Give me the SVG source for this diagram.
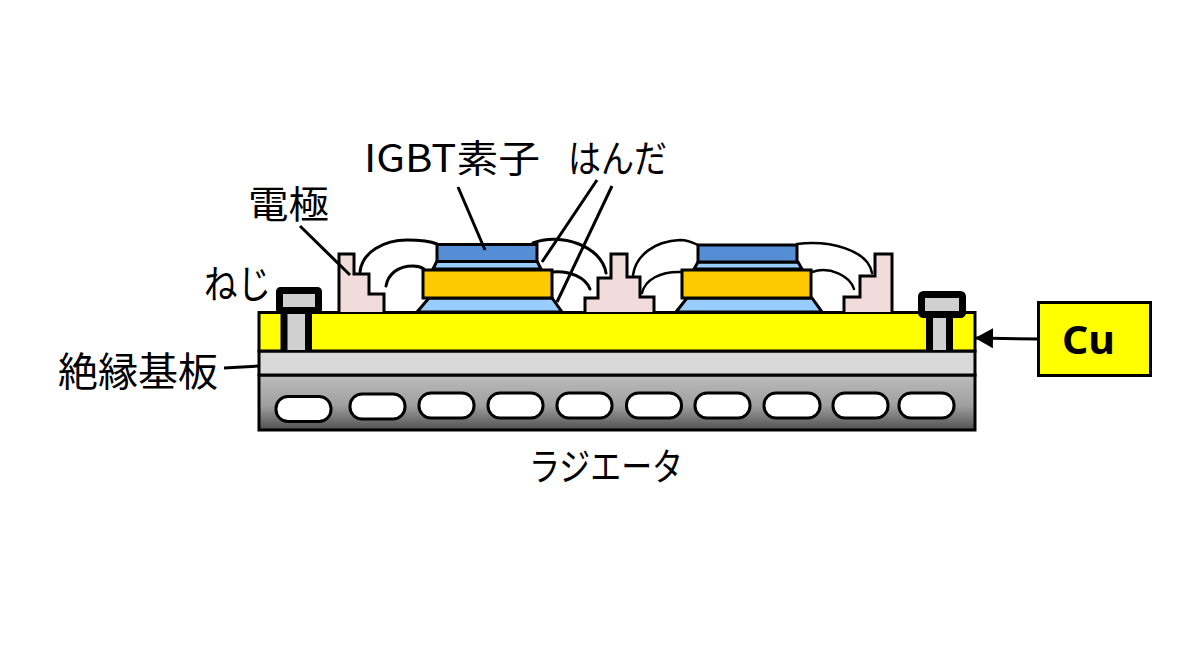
<svg xmlns="http://www.w3.org/2000/svg" width="1200" height="660" viewBox="0 0 1200 660">
<style>
.s{stroke:#000;stroke-width:3;stroke-linejoin:miter}
.el{fill:#f2dcdb}
.chip{fill:#558ed5}
.sol{fill:#99ccff}
.ora{fill:#ffc900}
.wire{fill:none;stroke:#000;stroke-width:3;stroke-linecap:round}
.wire2{fill:none;stroke:#000;stroke-width:2.500;stroke-linecap:round}
.lead{fill:none;stroke:#000;stroke-width:3}
.hole{fill:#fff;stroke:#000;stroke-width:3}
.bolt{fill:#d0d0d0;stroke:#000;stroke-width:7}
text{font-family:"Noto Sans CJK JP","Noto Sans",sans-serif;fill:#000;font-weight:400}
</style>
<defs>
<linearGradient id="rad" x1="0" y1="0" x2="0" y2="1">
<stop offset="0" stop-color="#bcbcbc"/><stop offset="0.55" stop-color="#a0a0a0"/><stop offset="1" stop-color="#505050"/>
</linearGradient>
<marker id="ah" markerUnits="userSpaceOnUse" markerWidth="20" markerHeight="22" refX="18" refY="11" orient="auto"><path d="M0 1L18 11L0 21Z" fill="#000"/></marker>
</defs>
<g id="radiator">
<rect x="259" y="375" width="716" height="55" fill="url(#rad)" class="s"/>
<rect class="hole" x="276" y="396.500" width="55" height="25" rx="12"/>
<rect class="hole" x="350" y="394" width="55" height="25" rx="12"/>
<rect class="hole" x="419" y="393" width="55" height="25" rx="12"/>
<rect class="hole" x="488" y="393" width="55" height="25" rx="12"/>
<rect class="hole" x="557" y="393" width="55" height="25" rx="12"/>
<rect class="hole" x="626.500" y="393" width="55" height="25" rx="12"/>
<rect class="hole" x="695" y="393" width="55" height="25" rx="12"/>
<rect class="hole" x="764" y="393" width="56" height="25" rx="12"/>
<rect class="hole" x="833" y="393" width="55" height="25" rx="12"/>
<rect class="hole" x="899" y="393" width="55" height="25" rx="12"/>
</g>
<g id="insulator"><rect x="259" y="351" width="716" height="24" fill="#d9d9d9" class="s"/></g>
<g id="copper"><rect x="259" y="312.500" width="716" height="38.500" fill="#ffff00" class="s"/></g>
<g id="electrode-left"><path class="el s" d="M339 312V254H354V274H369V294H384V312"/></g>
<g id="electrode-mid"><path class="el s" d="M585 312V298H598V278H611V254H627V277H640V297H654V312"/></g>
<g id="electrode-right"><path class="el s" d="M844 312V297H860V276H875V254H892V312"/></g>
<g id="chip-left">
<path class="sol s" d="M417 312L429 298H552L562 312Z"/>
<path class="sol s" d="M433 269L437 261H537L541 269Z"/>
<rect class="ora s" x="423" y="270" width="129" height="28"/>
<rect class="chip s" x="437" y="244.500" width="100" height="17"/>
</g>
<g id="chip-right">
<path class="sol s" d="M676 312L687 298H812L822 312Z"/>
<path class="sol s" d="M694 269L698 262H798L802 269Z"/>
<rect class="ora s" x="682" y="270" width="129" height="28"/>
<rect class="chip s" x="698" y="245" width="99" height="17"/>
</g>
<g id="bolt-left">
<path d="M284 312H308V350H284Z" fill="#d0d0d0"/>
<path d="M284 312V351M308.500 312V351" fill="none" stroke="#000" stroke-width="7"/>
<rect class="bolt" x="279.500" y="290.500" width="39" height="20" rx="1"/>
</g>
<g id="bolt-right">
<path d="M929.500 316H949.500V350H929.500Z" fill="#d0d0d0"/>
<path d="M929.500 316V351M949.500 316V351" fill="none" stroke="#000" stroke-width="7"/>
<rect class="bolt" x="921.500" y="294.500" width="41" height="20" rx="2"/>
</g>
<g id="connectors">
<path class="wire" d="M360 272C362 252 384 240 407 240C420 240 430 241 437 244"/>
<path class="wire" d="M386 286C388 274 398 266 413 266C417 266 421 267 424 269"/>
<path class="wire" d="M533 243C560 232 602 246 606 273"/>
<path class="wire" d="M552 272C570 270 586 278 590 289"/>
<path class="wire2" d="M633 275C636 255 655 241 680 240C686 240 692 242 698 245"/>
<path class="wire2" d="M642 293C645 280 660 271 682 272"/>
<path class="wire2" d="M797 244C830 240 868 250 872 273"/>
<path class="wire2" d="M812 272C830 266 850 276 854 289"/>
<path class="lead" d="M458 187L485 250"/>
<path class="lead" d="M597 180L542 262"/>
<path class="lead" d="M612 186L557 302"/>
<path class="lead" d="M300 226L350 275"/>
<path class="lead" d="M224 368L259 366"/>
<path class="lead" d="M1038 339L975 338" marker-end="url(#ah)"/>
</g>
<g id="cu-box">
<rect x="1038.500" y="302.500" width="112" height="73" fill="#ffff00" stroke="#000" stroke-width="3"/>
<text x="1062" y="354" font-size="40" textLength="53" lengthAdjust="spacingAndGlyphs" style="font-family:'Noto Sans',sans-serif;font-weight:700">Cu</text>
</g>
<g id="labels">
<text font-size="38" x="364" y="172" textLength="176" lengthAdjust="spacingAndGlyphs">IGBT素子</text>
<text font-size="38" x="568" y="172" textLength="99" lengthAdjust="spacingAndGlyphs">はんだ</text>
<text font-size="38" x="248" y="218" textLength="81" lengthAdjust="spacingAndGlyphs">電極</text>
<text font-size="39" x="204" y="298" textLength="67" lengthAdjust="spacingAndGlyphs">ねじ</text>
<text font-size="40" x="58" y="386" textLength="160" lengthAdjust="spacingAndGlyphs">絶縁基板</text>
<text font-size="38" x="529" y="480" textLength="154" lengthAdjust="spacingAndGlyphs">ラジエータ</text>
</g>
</svg>
